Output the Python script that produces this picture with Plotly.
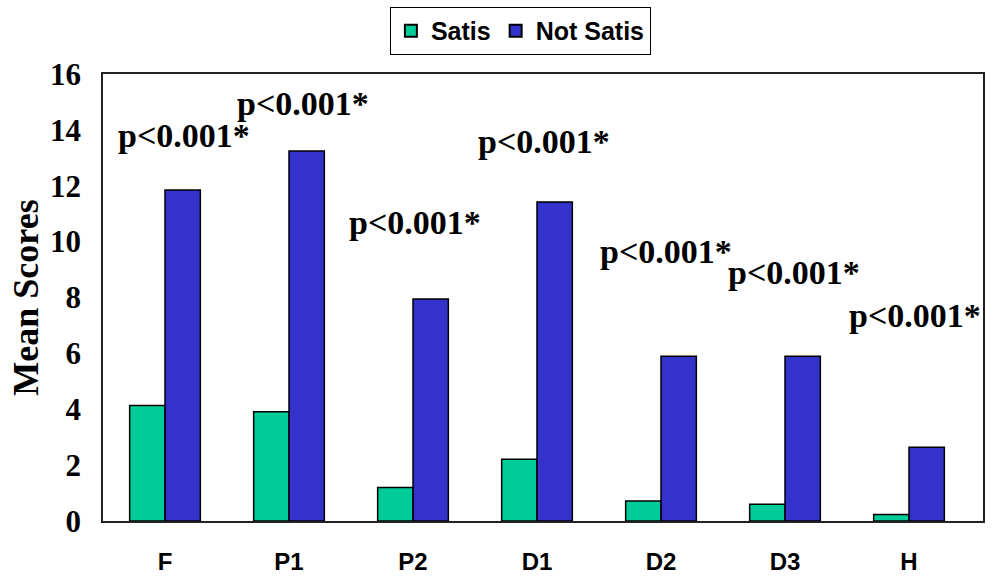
import plotly.graph_objects as go

categories = ["F", "P1", "P2", "D1", "D2", "D3", "H"]
satis = [4.13, 3.91, 1.2, 2.21, 0.72, 0.6, 0.23]
not_satis = [11.85, 13.24, 7.95, 11.42, 5.9, 5.9, 2.64]
p_labels = ["p<0.001*"] * 7
label_y = [13.8, 14.95, 10.7, 13.6, 9.65, 8.9, 7.35]
label_xshift = [19, 14, 2, 7, 5, 9, 6]

fig = go.Figure()
fig.add_trace(go.Bar(x=categories, y=satis, name="Satis",
                     marker=dict(color="#00CC99", line=dict(color="black", width=1.5))))
fig.add_trace(go.Bar(x=categories, y=not_satis, name="Not Satis",
                     marker=dict(color="#3333CC", line=dict(color="black", width=1.5))))

for c, t, yv, xs in zip(categories, p_labels, label_y, label_xshift):
    fig.add_annotation(x=c, y=yv, text="<b>" + t + "</b>", showarrow=False,
                       xshift=xs, xanchor="center", yanchor="middle",
                       font=dict(family="Liberation Serif", size=34, color="black"))

fig.update_layout(
    width=1001, height=578,
    margin=dict(l=103, r=18, t=74, b=57, autoexpand=False),
    paper_bgcolor="white", plot_bgcolor="white",
    barmode="group", bargap=0.43, bargroupgap=0,
    showlegend=True,
    legend=dict(orientation="h", x=0.326, xanchor="left", y=1.15, yanchor="top",
                bordercolor="black", borderwidth=1,
                font=dict(family="Liberation Sans", size=25, color="black", weight="bold"),
                itemsizing="constant", traceorder="normal", itemwidth=30,
                tracegroupgap=0),
    xaxis=dict(showline=True, linecolor="#222", linewidth=1.5, mirror=True, automargin=False,
               ticks="", tickfont=dict(family="Liberation Sans", size=24, color="black", weight="bold"),
               ticklabelstandoff=18),
    yaxis=dict(range=[0, 16], dtick=2, showline=True, linecolor="#222", linewidth=1.5, mirror=True,
               showgrid=False, ticks="", zeroline=False, automargin=False,
               tickfont=dict(family="Liberation Serif", size=31, color="black", weight="bold"),
               ticklabelstandoff=14,
               title=dict(text="<b>Mean Scores</b>", standoff=0,
                          font=dict(family="Liberation Serif", size=36, color="black"))),
)

fig.write_html("out.html", config={"displayModeBar": False},
               post_script="document.body.style.margin='0';document.body.style.overflow='hidden';")
